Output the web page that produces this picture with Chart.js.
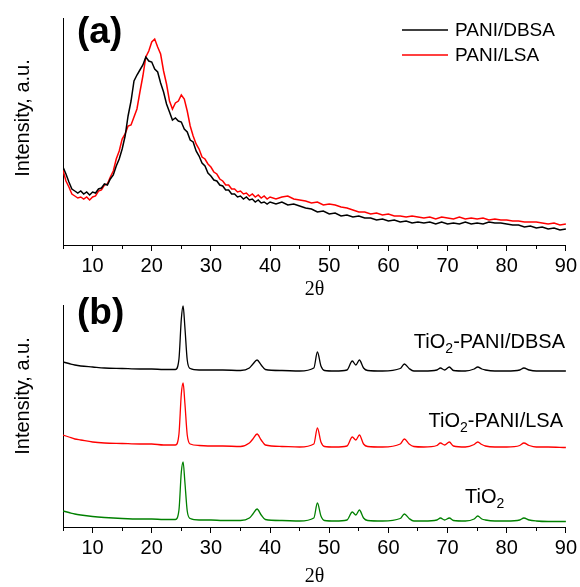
<!DOCTYPE html>
<html>
<head>
<meta charset="utf-8">
<script src="https://cdn.jsdelivr.net/npm/chart.js@4.4.1/dist/chart.umd.min.js"></script>
<style>
  body { margin: 0; background: #fff; }
  .wrap { position: relative; width: 580px; height: 587px; }
  .wrap canvas { position: absolute; left: 0; top: 0; }
</style>
</head>
<body>
<div class="wrap">
  <canvas id="xrdA" width="580" height="587"></canvas>
  <canvas id="xrdB" width="580" height="587"></canvas>
</div>
<script>
// (a) PANI samples, 2-theta scan
const thetaA = [
  5, 5.5, 6, 6.5, 7, 7.5, 8, 8.5, 9, 9.5,
  10, 10.5, 11, 11.5, 12, 12.5, 13, 13.5, 14, 14.5,
  15, 15.5, 16, 16.5, 17, 17.5, 18, 18.5, 19, 19.5,
  20, 20.5, 21, 21.5, 22, 22.5, 23, 23.5, 24, 24.5,
  25, 25.5, 26, 26.5, 27, 27.5, 28, 28.5, 29, 29.5,
  30, 30.5, 31, 31.5, 32, 32.5, 33, 33.5, 34, 34.5,
  35, 35.5, 36, 36.5, 37, 37.5, 38, 38.5, 39, 39.5,
  40, 41, 42, 43, 44, 45, 46, 47, 48, 49,
  50, 51, 52, 53, 54, 55, 56, 57, 58, 59,
  60, 61, 62, 63, 64, 65, 66, 67, 68, 69,
  70, 71, 72, 73, 74, 75, 76, 77, 78, 79,
  80, 81, 82, 83, 84, 85, 86, 87, 88, 89,
  90
];
const paniDBSA = [
  78, 71, 63, 56, 54, 52, 54, 51, 53, 50,
  53, 52, 56, 57, 61, 60, 66, 70, 79, 86,
  96, 109, 129, 144, 164, 170, 175, 180, 188, 184,
  183, 176, 173, 162, 153, 141, 133, 125, 127, 124,
  123, 116, 113, 105, 103, 94, 89, 82, 79, 72,
  69, 65, 64, 60, 59, 55, 55, 51, 51, 48,
  49, 46, 48, 45, 46, 43, 45, 42, 43, 41,
  43, 41, 43, 40, 41, 39, 37, 36, 33, 34,
  31, 32, 29, 30, 28, 29, 27, 27, 25, 26,
  24, 25, 23, 24, 22, 23, 22, 23, 21, 23,
  21, 22, 21, 23, 21, 22, 21, 23, 22, 22,
  21, 20, 20, 18, 19, 17, 18, 16, 17, 15,
  16
];
const paniLSA = [
  75, 64, 58, 51, 49, 47, 48, 46, 48, 45,
  48, 49, 54, 55, 60, 61, 68, 74, 86, 94,
  106, 111, 119, 120, 128, 136, 153, 169, 188, 194,
  203, 206, 198, 191, 174, 161, 144, 136, 142, 144,
  150, 146, 134, 119, 109, 101, 96, 88, 86, 81,
  78, 73, 71, 66, 64, 60, 60, 56, 56, 53,
  54, 51, 52, 49, 51, 48, 50, 47, 49, 46,
  48, 46, 48, 49, 46, 45, 44, 42, 43, 40,
  41, 40, 38, 37, 35, 33, 33, 31, 32, 30,
  31, 29, 29, 28, 29, 28, 27, 28, 26, 28,
  27, 26, 28, 26, 27, 26, 27, 25, 26, 25,
  25, 24, 24, 23, 23, 23, 22, 21, 22, 20,
  21
];

// (b) TiO2 composites, stacked (values as plotted)
const thetaB = [
  5, 6, 7, 8, 10, 12, 15, 18, 20, 22,
  24, 24.6, 25.0, 25.3, 25.6, 26.0, 26.5, 28, 30, 32,
  35, 36.5, 37.1, 37.8, 38.5, 39.2, 42, 45, 47.4, 48.0,
  48.6, 49.2, 51, 53, 53.9, 54.5, 55.1, 55.8, 56.5, 59,
  62, 62.7, 63.5, 64.3, 66, 68.2, 68.8, 69.5, 70.3, 71,
  73, 74.5, 75.1, 75.8, 76.4, 78, 80, 82.2, 82.9, 83.8,
  85, 87, 90
];
const tioDBSA = [
  165, 163.5, 162, 161, 160, 159, 158.5, 158, 158, 157.5,
  157.5, 168, 208, 221, 200, 167, 158.5, 157, 157, 157,
  156.5, 159, 163, 167, 162, 157.5, 156.5, 156, 159, 175,
  161, 156.5, 156, 157, 166, 162, 167, 159, 156.5, 156,
  158.5, 163, 158.5, 156, 156, 157, 159, 157, 160, 156.5,
  156, 158, 160, 158, 157, 156, 156, 157, 159, 157,
  156, 156, 156
];
const tioLSA = [
  92, 90, 88, 87, 85, 84, 83.5, 83, 83, 82,
  82, 93, 133, 144, 124, 92, 83, 81.5, 81, 81,
  80.5, 84, 88, 93, 87, 82, 80.5, 80, 83, 99,
  85, 80.5, 80, 81, 90, 87, 92, 83, 80.5, 80,
  83, 88, 83, 80.5, 80, 81.5, 84, 82, 85, 81,
  80, 82.5, 85, 82.5, 81, 80, 80, 81.5, 84, 81.5,
  80, 80, 79.5
];
const tio2 = [
  16, 14.5, 13, 12, 10.5, 9.5, 8.5, 8, 8, 7.5,
  7.5, 17, 55, 65, 45, 16, 8.5, 7, 7, 6.5,
  6.5, 9, 13, 18, 12, 7.5, 6.5, 6, 9, 24,
  11, 6.5, 6, 7, 15, 12, 17, 9, 6.5, 6,
  8.5, 13, 8.5, 6, 6, 7, 9, 7, 9, 6.5,
  6, 8, 11, 8, 7, 6, 6, 7, 9, 7,
  6, 5.5, 5.5
];

const FONT = "'Liberation Sans', Arial, sans-serif";
const SERIF = "'Liberation Serif', 'Times New Roman', serif";

const pts = (xs, ys) => xs.map((x, i) => ({ x: x, y: ys[i] }));

function xAxis(height) {
  return {
    type: 'linear',
    min: 5,
    max: 90,
    afterFit: (s) => { s.height = height; },
    ticks: {
      stepSize: 5,
      autoSkip: false,
      maxRotation: 0,
      padding: 3,
      color: '#000',
      font: { family: FONT, size: 20 },
      callback: (v) => (v % 10 === 0 ? v : '')
    },
    grid: {
      drawOnChartArea: false,
      color: '#000',
      tickLength: 6,
      // minor ticks at the 5s are shorter
      tickBorderDash: (c) => (c.tick && c.tick.value % 10 === 0 ? [] : [3, 30])
    },
    border: { color: '#000', width: 1 },
    title: {
      display: true,
      text: '2θ',
      color: '#000',
      font: { family: SERIF, size: 20, lineHeight: 1 },
      padding: 0
    }
  };
}

function yAxis(max) {
  return {
    min: 0,
    max: max,
    afterFit: (s) => { s.width = 63; },
    ticks: { display: false },
    grid: { display: false },
    border: { color: '#000', width: 1 }
  };
}

// draws "TiO2-..." with a lowered subscript
function chemText(ctx, parts, x, y, align) {
  const big = '20px ' + FONT, small = '14px ' + FONT;
  let w = 0;
  parts.forEach((p) => { ctx.font = p[1] ? small : big; w += ctx.measureText(p[0]).width; });
  let cx = align === 'right' ? x - w : x;
  ctx.textAlign = 'left';
  ctx.textBaseline = 'alphabetic';
  parts.forEach((p) => {
    ctx.font = p[1] ? small : big;
    ctx.fillText(p[0], cx, p[1] ? y + 5 : y);
    cx += ctx.measureText(p[0]).width;
  });
}

function panelText(letter, letterY, titleY, extra) {
  return {
    id: 'panelText' + letter,
    afterDraw(chart) {
      const ctx = chart.ctx;
      ctx.save();
      ctx.fillStyle = '#000';
      ctx.font = 'bold 37px ' + FONT;
      ctx.textAlign = 'left';
      ctx.textBaseline = 'alphabetic';
      ctx.fillText('(' + letter + ')', 77, letterY);

      ctx.save();
      ctx.translate(23, titleY);
      ctx.rotate(-Math.PI / 2);
      ctx.font = '20px ' + FONT;
      ctx.textAlign = 'center';
      ctx.textBaseline = 'middle';
      ctx.fillText('Intensity, a.u.', 0, 0);
      ctx.restore();

      extra(chart, ctx);
      ctx.restore();
    }
  };
}

const legendA = (chart, ctx) => {
  chart.data.datasets.forEach((ds, i) => {
    const y = 30 + i * 25;
    ctx.strokeStyle = ds.borderColor;
    ctx.lineWidth = 1.5;
    ctx.beginPath();
    ctx.moveTo(402, y);
    ctx.lineTo(448, y);
    ctx.stroke();
    ctx.fillStyle = '#000';
    ctx.font = '19px ' + FONT;
    ctx.textAlign = 'left';
    ctx.textBaseline = 'middle';
    ctx.fillText(ds.label, 455, y + 1);
  });
};

const labelsB = (chart, ctx) => {
  ctx.fillStyle = '#000';
  chemText(ctx, [['TiO', false], ['2', true], ['-PANI/DBSA', false]], 565, 348, 'right');
  chemText(ctx, [['TiO', false], ['2', true], ['-PANI/LSA', false]], 563, 427, 'right');
  chemText(ctx, [['TiO', false], ['2', true]], 465, 503, 'left');
};

new Chart(document.getElementById('xrdA'), {
  type: 'line',
  data: {
    datasets: [
      { label: 'PANI/DBSA', data: pts(thetaA, paniDBSA), borderColor: '#000000', borderWidth: 1.5, pointRadius: 0, tension: 0 },
      { label: 'PANI/LSA', data: pts(thetaA, paniLSA), borderColor: '#ff0000', borderWidth: 1.5, pointRadius: 0, tension: 0 }
    ]
  },
  options: {
    responsive: false,
    animation: false,
    layout: { padding: { left: 0, top: 18, right: 13, bottom: 287 } },
    plugins: { legend: { display: false }, tooltip: { enabled: false } },
    scales: { x: xAxis(55), y: yAxis(227) }
  },
  plugins: [panelText('a', 43, 118, legendA)]
});

new Chart(document.getElementById('xrdB'), {
  type: 'line',
  data: {
    datasets: [
      { label: 'TiO2-PANI/DBSA', data: pts(thetaB, tioDBSA), borderColor: '#000000', borderWidth: 1.3, pointRadius: 0, cubicInterpolationMode: 'monotone' },
      { label: 'TiO2-PANI/LSA', data: pts(thetaB, tioLSA), borderColor: '#ff0000', borderWidth: 1.3, pointRadius: 0, cubicInterpolationMode: 'monotone' },
      { label: 'TiO2', data: pts(thetaB, tio2), borderColor: '#008000', borderWidth: 1.3, pointRadius: 0, cubicInterpolationMode: 'monotone' }
    ]
  },
  options: {
    responsive: false,
    animation: false,
    layout: { padding: { left: 0, top: 305, right: 13, bottom: 0 } },
    plugins: { legend: { display: false }, tooltip: { enabled: false } },
    scales: { x: xAxis(60), y: yAxis(222) }
  },
  plugins: [panelText('b', 324, 396, labelsB)]
});
</script>
</body>
</html>
